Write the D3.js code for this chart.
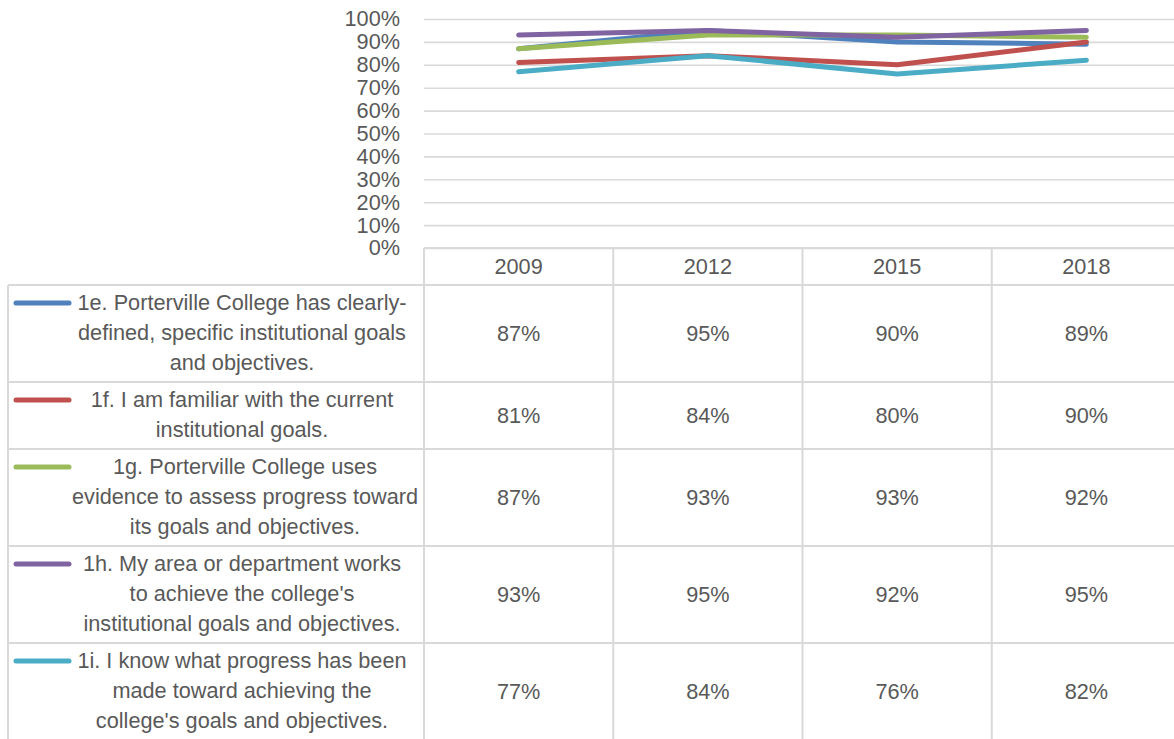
<!DOCTYPE html>
<html>
<head>
<meta charset="utf-8">
<script src="https://cdn.jsdelivr.net/npm/d3@7/dist/d3.min.js"></script>
<style>
  html, body { margin: 0; padding: 0; background: #ffffff; }
  svg { display: block; }
  text { font-family: "Liberation Sans", Arial, sans-serif; fill: #595959; }
</style>
</head>
<body>
<svg id="chart" width="1174" height="739"></svg>
<script>
// Survey years (category axis / table columns)
const years = ["2009", "2012", "2015", "2018"];

// Survey items, in series order, with their wrapped legend text
const items = ["1e", "1f", "1g", "1h", "1i"];
const itemLines = [
  ["1e. Porterville College has clearly-", "defined, specific institutional goals", "and objectives."],
  ["1f. I am familiar with the current", "institutional goals."],
  ["1g. Porterville College uses", "evidence to assess progress toward", "its goals and objectives."],
  ["1h. My area or department works", "to achieve the college's", "institutional goals and objectives."],
  ["1i. I know what progress has been", "made toward achieving the", "college's goals and objectives."]
];

// Share of respondents agreeing, per item and year
const values1e = [0.87, 0.95, 0.90, 0.89];
const values1f = [0.81, 0.84, 0.80, 0.90];
const values1g = [0.87, 0.93, 0.93, 0.92];
const values1h = [0.93, 0.95, 0.92, 0.95];
const values1i = [0.77, 0.84, 0.76, 0.82];
const seriesValues = [values1e, values1f, values1g, values1h, values1i];

const seriesColors = ["#4F81BD", "#C0504D", "#9BBB59", "#8064A2", "#4BACC6"];

// Value axis ticks
const yTicks = [0, 0.1, 0.2, 0.3, 0.4, 0.5, 0.6, 0.7, 0.8, 0.9, 1.0];

// ---- layout ----
const svg = d3.select("#chart");
const plotLeft = 424, plotRight = 1181, plotTop = 19, plotBottom = 248;
const tableLeft = 8;
const headerH = 37;
const lineH = 30, rowPadTop = 17, rowPadBottom = 20;
const gridColor = "#d9d9d9";
const fontSize = 21.7;
const pct = d3.format(".0%");

const x = d3.scaleBand().domain(years).range([plotLeft, plotRight]).padding(0);
const y = d3.scaleLinear().domain([0, 1]).range([plotBottom, plotTop]);
const cx = d => x(d) + x.bandwidth() / 2;

// Value axis with gridlines
const yAxis = d3.axisLeft(y)
  .tickValues(yTicks)
  .tickFormat(pct)
  .tickSizeInner(-(plotRight - plotLeft))
  .tickSizeOuter(0)
  .tickPadding(24);

const gy = svg.append("g")
  .attr("transform", `translate(${plotLeft},0)`)
  .call(yAxis);
gy.select(".domain").remove();
gy.selectAll(".tick line").attr("stroke", gridColor).attr("stroke-width", 1.6);
gy.selectAll(".tick text")
  .attr("font-size", fontSize)
  .attr("font-family", "Liberation Sans, Arial, sans-serif")
  .attr("fill", "#595959");

// Series lines
const line = d3.line()
  .x((d, i) => cx(years[i]))
  .y(d => y(d));

svg.append("g")
  .selectAll("path")
  .data(seriesValues)
  .join("path")
  .attr("d", d => line(d))
  .attr("fill", "none")
  .attr("stroke", (d, i) => seriesColors[i])
  .attr("stroke-width", 5)
  .attr("stroke-linecap", "round")
  .attr("stroke-linejoin", "round");

// ---- data table ----
const rowHeights = itemLines.map(l => rowPadTop + (l.length - 1) * lineH + rowPadBottom);
const rowTops = [];
let acc = plotBottom + headerH;
rowHeights.forEach(h => { rowTops.push(acc); acc += h; });
const tableBottom = acc;

const table = svg.append("g");

// Header row: year labels
table.selectAll("text.year")
  .data(years)
  .join("text")
  .attr("class", "year")
  .attr("x", d => cx(d))
  .attr("y", plotBottom + headerH / 2)
  .attr("dy", "0.35em")
  .attr("text-anchor", "middle")
  .attr("font-size", fontSize)
  .text(d => d);

// Horizontal borders
const hLines = [{ y: plotBottom, x0: plotLeft }, { y: plotBottom + headerH, x0: tableLeft }]
  .concat(rowTops.slice(1).map(t => ({ y: t, x0: tableLeft })))
  .concat([{ y: tableBottom, x0: tableLeft }]);
table.selectAll("line.h")
  .data(hLines)
  .join("line")
  .attr("class", "h")
  .attr("x1", d => d.x0)
  .attr("x2", plotRight)
  .attr("y1", d => d.y)
  .attr("y2", d => d.y)
  .attr("stroke", gridColor)
  .attr("stroke-width", 2);

// Vertical borders
const vLines = [{ x: tableLeft, y0: plotBottom + headerH }]
  .concat(years.map(yr => ({ x: x(yr), y0: plotBottom })))
  .concat([{ x: plotRight, y0: plotBottom }]);
table.selectAll("line.v")
  .data(vLines)
  .join("line")
  .attr("class", "v")
  .attr("x1", d => d.x)
  .attr("x2", d => d.x)
  .attr("y1", d => d.y0)
  .attr("y2", tableBottom)
  .attr("stroke", gridColor)
  .attr("stroke-width", 2);

// Rows: legend key, wrapped item text, values
const rows = table.selectAll("g.row")
  .data(items)
  .join("g")
  .attr("class", "row")
  .attr("transform", (d, i) => `translate(0,${rowTops[i]})`);

rows.append("line")
  .attr("x1", 16).attr("x2", 69)
  .attr("y1", rowPadTop + 1).attr("y2", rowPadTop + 1)
  .attr("stroke", (d, i) => seriesColors[i])
  .attr("stroke-width", 5)
  .attr("stroke-linecap", "round");

rows.each(function (d, i) {
  const g = d3.select(this);
  g.selectAll("text.label")
    .data(itemLines[i])
    .join("text")
    .attr("class", "label")
    .attr("x", i === 2 ? 245 : 242)
    .attr("y", (t, j) => rowPadTop + j * lineH)
    .attr("dy", "0.35em")
    .attr("text-anchor", "middle")
    .attr("font-size", fontSize)
    .text(t => t);

  g.selectAll("text.value")
    .data(seriesValues[i])
    .join("text")
    .attr("class", "value")
    .attr("x", (v, j) => cx(years[j]))
    .attr("y", rowHeights[i] / 2)
    .attr("dy", "0.35em")
    .attr("text-anchor", "middle")
    .attr("font-size", fontSize)
    .text(v => pct(v));
});
</script>
</body>
</html>
